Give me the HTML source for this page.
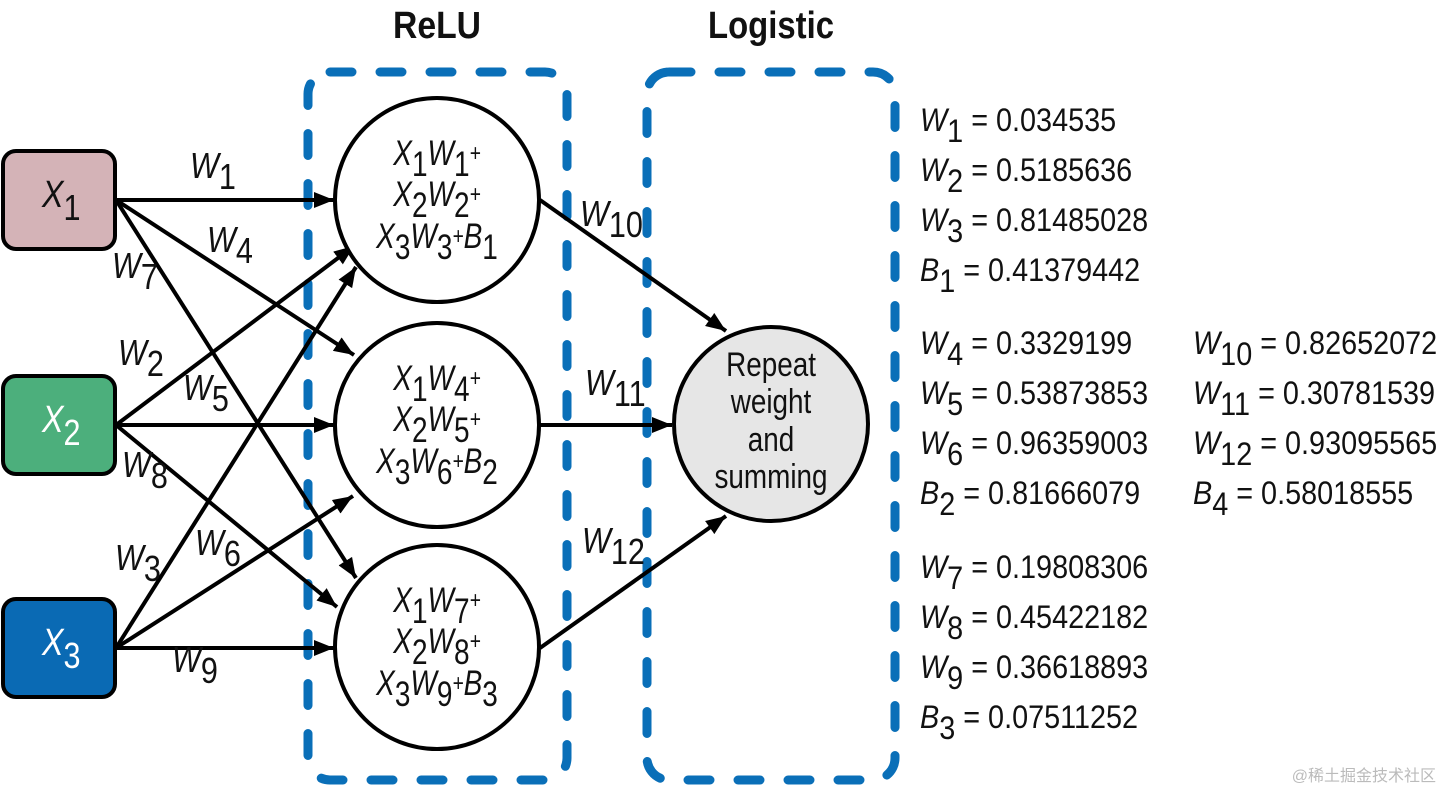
<!DOCTYPE html>
<html><head><meta charset="utf-8"><style>
html,body{margin:0;padding:0;background:#fff;width:1440px;height:791px;overflow:hidden}
svg{display:block}
text{font-family:"Liberation Sans",sans-serif;fill:#111}
.it{font-style:italic}
</style></head><body>
<svg width="1440" height="791" viewBox="0 0 1440 791" xmlns="http://www.w3.org/2000/svg">
<defs>
<marker id="a" viewBox="0 0 20 16" refX="20" refY="8" markerWidth="20" markerHeight="16" markerUnits="userSpaceOnUse" orient="auto"><path d="M0,0 L20,8 L0,16 z" fill="#000"/></marker>
</defs>
<text x="437" y="38" font-size="38" text-anchor="middle" font-weight="bold" textLength="88" lengthAdjust="spacingAndGlyphs">ReLU</text>
<text x="771" y="38" font-size="38" text-anchor="middle" font-weight="bold" textLength="126" lengthAdjust="spacingAndGlyphs">Logistic</text>
<rect x="308" y="72" width="259" height="708" rx="22" fill="none" stroke="#0a6fb8" stroke-width="9" stroke-linecap="round" stroke-dasharray="22 28"/>
<rect x="647" y="72" width="248" height="708" rx="22" fill="none" stroke="#0a6fb8" stroke-width="9" stroke-linecap="round" stroke-dasharray="22 28"/>
<rect x="3" y="151" width="112" height="98" rx="13" fill="#d4b3b7" stroke="#000" stroke-width="4"/>
<rect x="3" y="376" width="112" height="98" rx="13" fill="#4caf7c" stroke="#000" stroke-width="4"/>
<rect x="3" y="599" width="112" height="98" rx="13" fill="#0a6ab4" stroke="#000" stroke-width="4"/>
<g transform="translate(42,207) scale(0.85,1)"><text font-size="38" class="it">X<tspan font-size="36" font-style="normal" dy="13">1</tspan></text></g>
<g transform="translate(42,432) scale(0.85,1)"><text font-size="38" class="it" style="fill:#fff">X<tspan font-size="36" font-style="normal" dy="13" style="fill:#fff">2</tspan></text></g>
<g transform="translate(42,655) scale(0.85,1)"><text font-size="38" class="it" style="fill:#fff">X<tspan font-size="36" font-style="normal" dy="13" style="fill:#fff">3</tspan></text></g>
<g stroke="#000" stroke-width="4" fill="none" marker-end="url(#a)">
<line x1="116" y1="200" x2="334" y2="200"/>
<line x1="116" y1="200" x2="354" y2="355"/>
<line x1="116" y1="200" x2="356" y2="578"/>
<line x1="116" y1="425" x2="354" y2="246"/>
<line x1="116" y1="425" x2="334" y2="425"/>
<line x1="116" y1="425" x2="337" y2="607"/>
<line x1="116" y1="648" x2="356" y2="267"/>
<line x1="116" y1="648" x2="353" y2="496"/>
<line x1="116" y1="648" x2="334" y2="648"/>
<line x1="540" y1="200" x2="726" y2="331"/>
<line x1="540" y1="425" x2="672" y2="425"/>
<line x1="540" y1="648" x2="726" y2="516"/>
</g>
<circle cx="437" cy="200" r="102" fill="#fff" stroke="#000" stroke-width="4"/>
<circle cx="437" cy="425" r="102" fill="#fff" stroke="#000" stroke-width="4"/>
<circle cx="437" cy="647" r="102" fill="#fff" stroke="#000" stroke-width="4"/>
<circle cx="771" cy="424" r="97" fill="#e6e6e6" stroke="#000" stroke-width="4"/>
<g font-size="35" class="it" text-anchor="middle">
<g transform="translate(437,165) scale(0.8,1)"><text>X<tspan dy="11" font-style="normal">1</tspan><tspan dy="-11">W</tspan><tspan dy="11" font-style="normal">1</tspan><tspan dy="-15" font-size="24">+</tspan></text></g>
<g transform="translate(437,206) scale(0.8,1)"><text>X<tspan dy="11" font-style="normal">2</tspan><tspan dy="-11">W</tspan><tspan dy="11" font-style="normal">2</tspan><tspan dy="-15" font-size="24">+</tspan></text></g>
<g transform="translate(437,248) scale(0.8,1)"><text>X<tspan dy="11" font-style="normal">3</tspan><tspan dy="-11">W</tspan><tspan dy="11" font-style="normal">3</tspan><tspan dy="-15" font-size="24">+</tspan><tspan dy="4">B</tspan><tspan dy="11" font-style="normal">1</tspan></text></g>
<g transform="translate(437,390) scale(0.8,1)"><text>X<tspan dy="11" font-style="normal">1</tspan><tspan dy="-11">W</tspan><tspan dy="11" font-style="normal">4</tspan><tspan dy="-15" font-size="24">+</tspan></text></g>
<g transform="translate(437,431) scale(0.8,1)"><text>X<tspan dy="11" font-style="normal">2</tspan><tspan dy="-11">W</tspan><tspan dy="11" font-style="normal">5</tspan><tspan dy="-15" font-size="24">+</tspan></text></g>
<g transform="translate(437,473) scale(0.8,1)"><text>X<tspan dy="11" font-style="normal">3</tspan><tspan dy="-11">W</tspan><tspan dy="11" font-style="normal">6</tspan><tspan dy="-15" font-size="24">+</tspan><tspan dy="4">B</tspan><tspan dy="11" font-style="normal">2</tspan></text></g>
<g transform="translate(437,612) scale(0.8,1)"><text>X<tspan dy="11" font-style="normal">1</tspan><tspan dy="-11">W</tspan><tspan dy="11" font-style="normal">7</tspan><tspan dy="-15" font-size="24">+</tspan></text></g>
<g transform="translate(437,653) scale(0.8,1)"><text>X<tspan dy="11" font-style="normal">2</tspan><tspan dy="-11">W</tspan><tspan dy="11" font-style="normal">8</tspan><tspan dy="-15" font-size="24">+</tspan></text></g>
<g transform="translate(437,695) scale(0.8,1)"><text>X<tspan dy="11" font-style="normal">3</tspan><tspan dy="-11">W</tspan><tspan dy="11" font-style="normal">9</tspan><tspan dy="-15" font-size="24">+</tspan><tspan dy="4">B</tspan><tspan dy="11" font-style="normal">3</tspan></text></g>
</g>
<g font-size="34" text-anchor="middle">
<g transform="translate(771,376) scale(0.82,1)"><text>Repeat</text></g>
<g transform="translate(771,413) scale(0.82,1)"><text>weight</text></g>
<g transform="translate(771,451) scale(0.82,1)"><text>and</text></g>
<g transform="translate(771,488) scale(0.82,1)"><text>summing</text></g>
</g>
<g font-size="36" class="it">
<g transform="translate(190,178) scale(0.85,1)"><text>W<tspan dy="11" font-style="normal">1</tspan></text></g>
<g transform="translate(207,252) scale(0.85,1)"><text>W<tspan dy="11" font-style="normal">4</tspan></text></g>
<g transform="translate(112,278) scale(0.85,1)"><text>W<tspan dy="11" font-style="normal">7</tspan></text></g>
<g transform="translate(118,365) scale(0.85,1)"><text>W<tspan dy="11" font-style="normal">2</tspan></text></g>
<g transform="translate(183,400) scale(0.85,1)"><text>W<tspan dy="11" font-style="normal">5</tspan></text></g>
<g transform="translate(122,477) scale(0.85,1)"><text>W<tspan dy="11" font-style="normal">8</tspan></text></g>
<g transform="translate(115,570) scale(0.85,1)"><text>W<tspan dy="11" font-style="normal">3</tspan></text></g>
<g transform="translate(195,555) scale(0.85,1)"><text>W<tspan dy="11" font-style="normal">6</tspan></text></g>
<g transform="translate(172,672) scale(0.85,1)"><text>W<tspan dy="11" font-style="normal">9</tspan></text></g>
<g transform="translate(580,226) scale(0.85,1)"><text>W<tspan dy="11" font-style="normal">10</tspan></text></g>
<g transform="translate(585,395) scale(0.85,1)"><text>W<tspan dy="11" font-style="normal">11</tspan></text></g>
<g transform="translate(582,553) scale(0.85,1)"><text>W<tspan dy="11" font-style="normal">12</tspan></text></g>
</g>
<g font-size="32">
<g transform="translate(920,131) scale(0.9,1)"><text><tspan class="it">W</tspan><tspan dy="11">1</tspan><tspan dy="-11"> = 0.034535</tspan></text></g>
<g transform="translate(920,181) scale(0.9,1)"><text><tspan class="it">W</tspan><tspan dy="11">2</tspan><tspan dy="-11"> = 0.5185636</tspan></text></g>
<g transform="translate(920,231) scale(0.9,1)"><text><tspan class="it">W</tspan><tspan dy="11">3</tspan><tspan dy="-11"> = 0.81485028</tspan></text></g>
<g transform="translate(920,281) scale(0.9,1)"><text><tspan class="it">B</tspan><tspan dy="11">1</tspan><tspan dy="-11"> = 0.41379442</tspan></text></g>
<g transform="translate(920,354) scale(0.9,1)"><text><tspan class="it">W</tspan><tspan dy="11">4</tspan><tspan dy="-11"> = 0.3329199</tspan></text></g>
<g transform="translate(920,404) scale(0.9,1)"><text><tspan class="it">W</tspan><tspan dy="11">5</tspan><tspan dy="-11"> = 0.53873853</tspan></text></g>
<g transform="translate(920,454) scale(0.9,1)"><text><tspan class="it">W</tspan><tspan dy="11">6</tspan><tspan dy="-11"> = 0.96359003</tspan></text></g>
<g transform="translate(920,504) scale(0.9,1)"><text><tspan class="it">B</tspan><tspan dy="11">2</tspan><tspan dy="-11"> = 0.81666079</tspan></text></g>
<g transform="translate(1193,354) scale(0.9,1)"><text><tspan class="it">W</tspan><tspan dy="11">10</tspan><tspan dy="-11"> = 0.82652072</tspan></text></g>
<g transform="translate(1193,404) scale(0.9,1)"><text><tspan class="it">W</tspan><tspan dy="11">11</tspan><tspan dy="-11"> = 0.30781539</tspan></text></g>
<g transform="translate(1193,454) scale(0.9,1)"><text><tspan class="it">W</tspan><tspan dy="11">12</tspan><tspan dy="-11"> = 0.93095565</tspan></text></g>
<g transform="translate(1193,504) scale(0.9,1)"><text><tspan class="it">B</tspan><tspan dy="11">4</tspan><tspan dy="-11"> = 0.58018555</tspan></text></g>
<g transform="translate(920,578) scale(0.9,1)"><text><tspan class="it">W</tspan><tspan dy="11">7</tspan><tspan dy="-11"> = 0.19808306</tspan></text></g>
<g transform="translate(920,628) scale(0.9,1)"><text><tspan class="it">W</tspan><tspan dy="11">8</tspan><tspan dy="-11"> = 0.45422182</tspan></text></g>
<g transform="translate(920,678) scale(0.9,1)"><text><tspan class="it">W</tspan><tspan dy="11">9</tspan><tspan dy="-11"> = 0.36618893</tspan></text></g>
<g transform="translate(920,728) scale(0.9,1)"><text><tspan class="it">B</tspan><tspan dy="11">3</tspan><tspan dy="-11"> = 0.07511252</tspan></text></g>
</g>
<text x="1436" y="781" font-size="16" text-anchor="end" style="fill:#bbb;font-family:'Liberation Sans','Noto Sans CJK SC',sans-serif">@稀土掘金技术社区</text>
</svg>
</body></html>
